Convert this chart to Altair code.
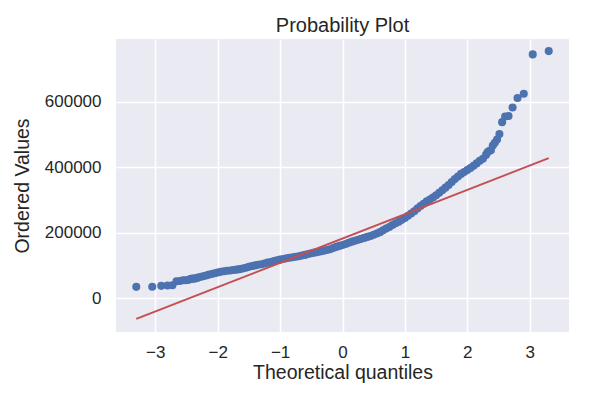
import altair as alt
import pandas as pd

# Theoretical quantiles (x) and ordered values (y)
lower_x = [-3.305, -3.049, -2.905, -2.805, -2.726, -2.661, -2.606, -2.558, -2.515,
           -2.477, -2.441, -2.409, -2.378, -2.349, -2.323]
lower_y = [34900, 35311, 37900, 39300, 40000, 52000, 52500, 55000, 55000,
           55993, 58500, 60000, 60000, 61000, 62383]

mid_x = [-2.30, -2.25, -2.20, -2.15, -2.10, -2.05, -2.00, -1.95, -1.90, -1.85,
         -1.80, -1.75, -1.70, -1.65, -1.60, -1.55, -1.50, -1.45, -1.40, -1.35,
         -1.30, -1.25, -1.20, -1.15, -1.10, -1.05, -1.00, -0.95, -0.90, -0.85,
         -0.80, -0.75, -0.70, -0.65, -0.60, -0.55, -0.50, -0.45, -0.40, -0.35,
         -0.30, -0.25, -0.20, -0.15, -0.10, -0.05, 0.00, 0.05, 0.10, 0.15,
         0.20, 0.25, 0.30, 0.35, 0.40, 0.45, 0.50, 0.55, 0.60, 0.65,
         0.70, 0.75, 0.80, 0.85, 0.90, 0.95, 1.00, 1.05, 1.10, 1.15,
         1.20, 1.25, 1.30, 1.35, 1.40, 1.45, 1.50, 1.55, 1.60, 1.65,
         1.70, 1.75, 1.80, 1.85, 1.90, 1.95, 2.00, 2.05, 2.10, 2.15,
         2.20, 2.25, 2.30]
mid_y = [64000, 66500, 69000, 71500, 74000, 76500, 79000, 81000, 82500, 84000,
         85000, 86500, 87500, 89000, 91000, 93500, 96000, 98500, 100500, 102500,
         104000, 106500, 109000, 111000, 113500, 116000, 118000, 120000, 122000, 124000,
         125500, 127000, 128500, 130500, 132500, 135000, 137500, 139500, 141000, 143000,
         145000, 147500, 150000, 153500, 157000, 160000, 163000, 166000, 169500, 173000,
         176000, 179000, 181500, 184500, 187500, 190500, 194000, 198000, 202000, 207500,
         213000, 218000, 224000, 229000, 234000, 239500, 245000, 252000, 259000, 266000,
         274000, 282000, 289000, 296000, 302000, 308000, 315000, 322000, 330000, 338000,
         346000, 355000, 364000, 372000, 380000, 386000, 392000, 398000, 405000, 412000,
         420000, 426000, 438000]

upper_x = [2.323, 2.349, 2.378, 2.409, 2.441, 2.477, 2.515, 2.558, 2.606, 2.661,
           2.726, 2.805, 2.905, 3.049, 3.305]
upper_y = [446261, 450000, 451950, 466500, 475000, 485000, 501837, 538000, 555000, 556581,
           582933, 611657, 625000, 745000, 755000]

fit_x = [-3.305, 3.305]
fit_y = [-63000, 428000]

x_ticks = [-3, -2, -1, 0, 1, 2, 3]
y_ticks = [0, 200000, 400000, 600000]

pts = pd.DataFrame({"q": lower_x + mid_x + upper_x, "v": lower_y + mid_y + upper_y})
fit = pd.DataFrame({"q": fit_x, "v": fit_y})

FONT = "Liberation Sans"
TXT = "#262626"

xs = alt.Scale(domain=[-3.63, 3.63], nice=False, zero=False)
ys = alt.Scale(domain=[-103000, 792000], nice=False, zero=False)

x_axis = alt.Axis(values=x_ticks, title="Theoretical quantiles", labelPadding=12,
                  titlePadding=3, format="d")
y_axis = alt.Axis(values=y_ticks, title="Ordered Values", labelPadding=15,
                  titlePadding=12, format="d")

points = alt.Chart(pts).mark_circle(size=65, color="#4C72B0", opacity=1).encode(
    x=alt.X("q:Q", scale=xs, axis=x_axis),
    y=alt.Y("v:Q", scale=ys, axis=y_axis),
)

line = alt.Chart(fit).mark_line(color="#C44E52", strokeWidth=2).encode(
    x=alt.X("q:Q", scale=xs),
    y=alt.Y("v:Q", scale=ys),
)

chart = (points + line).properties(
    width=453,
    height=293,
    padding={"left": 108, "top": 31, "right": 25, "bottom": 57},
    autosize=alt.AutoSizeParams(type="none"),
    background="white",
    title=alt.Title("Probability Plot", fontSize=20, font=FONT, color=TXT,
                    fontWeight="normal", baseline="alphabetic", offset=9, dy=22),
).configure_view(
    fill="#EAEAF2", strokeWidth=0
).configure_axis(
    grid=True, gridColor="white", gridWidth=1.5, gridOpacity=1,
    domain=False, ticks=False,
    labelFont=FONT, labelFontSize=17, labelColor=TXT,
    titleFont=FONT, titleFontSize=19.5, titleColor=TXT, titleFontWeight="normal",
)

chart.save("out.html", embed_options={"renderer": "svg", "actions": False})
